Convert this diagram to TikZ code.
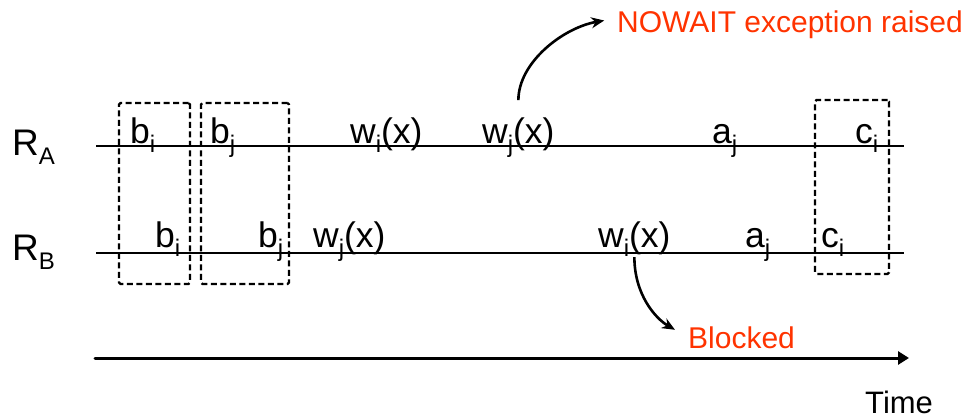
\documentclass[tikz,border=0pt]{standalone}
\usepackage{fontspec}
\setmainfont{Liberation Sans}
\usetikzlibrary{arrows.meta}
\definecolor{alertred}{RGB}{255,51,0}
% lowered, smaller index letter
\newcommand\lsub[1]{\raisebox{-9pt}{\fontsize{24}{24}\selectfont #1}}
\tikzset{
  lbl/.style={anchor=base west, inner sep=0pt, font=\fontsize{35.5}{40}\selectfont},
  note/.style={anchor=base west, inner sep=0pt, text=alertred, font=\fontsize{30}{34}\selectfont},
  tline/.style={line width=1.6pt},
  txbox/.style={draw, dashed, dash pattern=on 6pt off 3.5pt, line width=2.2pt,
                rounded corners=1.5pt, inner sep=0pt, minimum width=#1},
  curvearrow/.style={line width=2.6pt, -{Stealth[length=13pt,width=11pt]}}
}
\begin{document}
\begin{tikzpicture}[x=1pt,y=-1pt]
\useasboundingbox (0,0) rectangle (979,418);

% resource time lines
\coordinate (a0) at (96,146);  \coordinate (a1) at (904,146);
\coordinate (b0) at (96,253);  \coordinate (b1) at (904,253);
\draw[tline] (a0) -- (a1);
\draw[tline] (b0) -- (b1);

% transaction boundaries
\node[txbox=71pt, minimum height=181pt] (box1) at (154.5,193.5) {};
\node[txbox=88pt, minimum height=181pt] (box2) at (245,193.5) {};
\node[txbox=74pt, minimum height=174pt] (box3) at (852,187) {};

% resource names
\node[lbl, font=\fontsize{37}{40}\selectfont] (RA) at (12,155) {R\lsub{A}};
\node[lbl, font=\fontsize{37}{40}\selectfont] (RB) at (12,260) {R\lsub{B}};

% operations on R_A
\node[lbl] (biA) at (130,143) {b\lsub{i}};
\node[lbl] (bjA) at (210,143) {b\lsub{j}};
\node[lbl] (wiA) at (350,143) {w\lsub{i}(x)};
\node[lbl] (wjA) at (482,143) {w\lsub{j}(x)};
\node[lbl] (ajA) at (712,143) {a\lsub{j}};
\node[lbl] (ciA) at (855,143) {c\lsub{i}};

% operations on R_B
\node[lbl] (biB) at (155,247) {b\lsub{i}};
\node[lbl] (bjB) at (258,247) {b\lsub{j}};
\node[lbl] (wjB) at (313,247) {w\lsub{j}(x)};
\node[lbl] (wiB) at (598,247) {w\lsub{i}(x)};
\node[lbl] (ajB) at (745,247) {a\lsub{j}};
\node[lbl] (ciB) at (821,247) {c\lsub{i}};

% outcomes
\node[note] (nowait) at (617,32) {NOWAIT exception raised};
\node[note] (blocked) at (688,348) {Blocked};

\draw[curvearrow, shorten <=17pt, shorten >=13pt] (wjA.north) to[out=90, in=190] ([yshift=6pt]nowait.west);
\draw[curvearrow, shorten <=1pt, shorten >=15pt] (wiB.south) to[out=-90, in=150] (blocked.west);

% time axis
\coordinate (t0) at (95,358);
\coordinate (t1) at (909,358);
\draw[line width=3pt, line cap=round, -{Triangle[length=11pt,width=13pt]}] (t0) -- (t1);
\node[anchor=base west, inner sep=0pt, font=\fontsize{31}{34}\selectfont] (time) at (865,413) {Time};
\end{tikzpicture}
\end{document}
